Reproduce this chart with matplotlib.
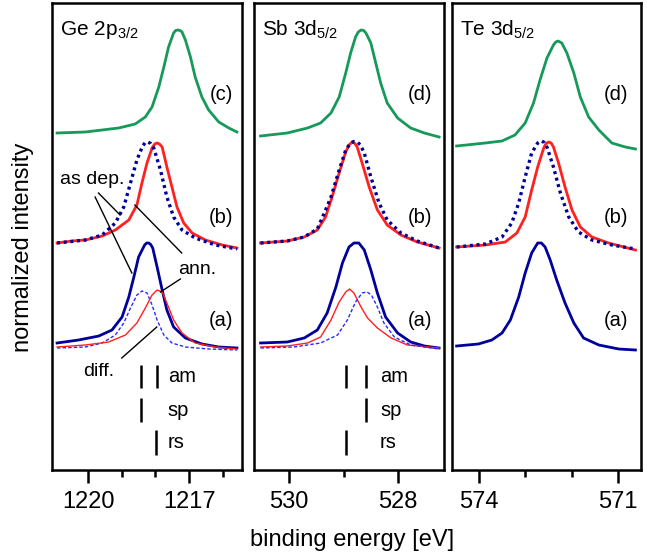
import matplotlib
matplotlib.use("Agg")
import matplotlib.pyplot as plt

plt.rcParams['font.family'] = ['Liberation Sans', 'DejaVu Sans']
plt.rcParams['mathtext.fontset'] = 'custom'
plt.rcParams['mathtext.rm'] = 'Liberation Sans'
plt.rcParams['mathtext.it'] = 'Liberation Sans:italic'
plt.rcParams['lines.solid_joinstyle'] = 'round'

GREEN = "#17995a"
RED = "#ff2020"
NAVY = "#00009a"

# ---- Ge 2p3/2 ----
ge_c_e = [1220.92, 1220.08, 1219.09, 1218.60, 1218.30, 1218.10, 1217.90, 1217.75, 1217.61, 1217.46,
          1217.40, 1217.33, 1217.27, 1217.21, 1217.11, 1216.96, 1216.82, 1216.62, 1216.42, 1216.12,
          1215.82, 1215.58]
ge_c_i = [3.37, 3.38, 3.42, 3.46, 3.53, 3.63, 3.83, 4.03, 4.23, 4.37,
          4.395, 4.40, 4.395, 4.38, 4.30, 4.13, 3.93, 3.73, 3.60, 3.48,
          3.42, 3.38]
ge_b_ann_e = [1220.92, 1220.47, 1220.08, 1219.58, 1219.19, 1218.79, 1218.55, 1218.40, 1218.25, 1218.10,
              1218.02, 1217.95, 1217.88, 1217.80, 1217.66, 1217.51, 1217.36, 1217.16, 1216.91, 1216.52,
              1216.02, 1215.58]
ge_b_ann_i = [2.27, 2.29, 2.30, 2.34, 2.40, 2.50, 2.65, 2.87, 3.07, 3.22,
              3.26, 3.27, 3.26, 3.23, 3.03, 2.83, 2.63, 2.47, 2.37, 2.30,
              2.25, 2.22]
ge_b_dep_e = [1220.92, 1220.08, 1219.58, 1219.19, 1218.94, 1218.74, 1218.55, 1218.38, 1218.30, 1218.22,
              1218.14, 1218.05, 1217.85, 1217.66, 1217.46, 1217.21, 1216.82, 1216.22, 1215.58]
ge_b_dep_i = [2.27, 2.30, 2.35, 2.47, 2.63, 2.87, 3.10, 3.24, 3.275, 3.28,
              3.265, 3.22, 3.00, 2.73, 2.53, 2.40, 2.32, 2.25, 2.21]
ge_a_e = [1220.92, 1220.28, 1219.68, 1219.29, 1218.99, 1218.79, 1218.64, 1218.50, 1218.32, 1218.26,
          1218.20, 1218.14, 1218.08, 1217.95, 1217.80, 1217.66, 1217.46, 1217.11, 1216.62, 1216.12,
          1215.58]
ge_a_i = [1.27, 1.30, 1.34, 1.40, 1.53, 1.73, 1.93, 2.13, 2.25, 2.27,
          2.27, 2.255, 2.22, 2.03, 1.80, 1.60, 1.43, 1.32, 1.26, 1.23,
          1.22]
ge_a_dep_e = [1220.92, 1220.08, 1219.58, 1219.19, 1218.94, 1218.74, 1218.55, 1218.40, 1218.25, 1218.10,
              1217.95, 1217.75, 1217.51, 1217.11, 1216.42, 1215.58]
ge_a_dep_i = [1.22, 1.23, 1.27, 1.35, 1.47, 1.62, 1.75, 1.79, 1.77, 1.65,
              1.50, 1.35, 1.27, 1.23, 1.21, 1.20]
ge_a_ann_e = [1220.92, 1220.08, 1219.39, 1218.89, 1218.55, 1218.30, 1218.10, 1217.95, 1217.80, 1217.66,
              1217.46, 1217.21, 1216.82, 1216.22, 1215.58]
ge_a_ann_i = [1.23, 1.25, 1.28, 1.35, 1.47, 1.62, 1.75, 1.80, 1.78, 1.67,
              1.50, 1.37, 1.27, 1.23, 1.21]

# ---- Sb 3d5/2 ----
sb_d_e = [530.52, 530.03, 529.66, 529.42, 529.23, 529.08, 528.96, 528.87, 528.78, 528.73,
          528.68, 528.63, 528.59, 528.50, 528.41, 528.32, 528.20, 528.01, 527.77, 527.52,
          527.25]
sb_d_i = [3.34, 3.37, 3.42, 3.47, 3.57, 3.73, 3.97, 4.17, 4.33, 4.38,
          4.40, 4.395, 4.37, 4.27, 4.07, 3.87, 3.67, 3.52, 3.42, 3.37,
          3.33]
sb_b_ann_e = [530.52, 530.03, 529.72, 529.48, 529.33, 529.21, 529.08, 528.96, 528.90, 528.84,
              528.80, 528.75, 528.66, 528.53, 528.38, 528.20, 527.95, 527.65, 527.25]
sb_b_ann_i = [2.27, 2.29, 2.33, 2.40, 2.53, 2.73, 2.97, 3.18, 3.25, 3.28,
              3.27, 3.23, 3.07, 2.83, 2.60, 2.45, 2.35, 2.28, 2.22]
sb_b_dep_e = [530.52, 530.03, 529.72, 529.48, 529.36, 529.23, 529.08, 528.96, 528.87, 528.81,
              528.75, 528.69, 528.62, 528.50, 528.35, 528.20, 527.95, 527.65, 527.25]
sb_b_dep_i = [2.27, 2.29, 2.33, 2.41, 2.56, 2.73, 3.00, 3.20, 3.27, 3.285,
              3.28, 3.25, 3.17, 2.93, 2.67, 2.50, 2.37, 2.29, 2.22]
sb_a_e = [530.52, 530.03, 529.72, 529.48, 529.30, 529.14, 529.02, 528.90, 528.81, 528.72,
          528.62, 528.50, 528.38, 528.23, 528.01, 527.77, 527.52, 527.25]
sb_a_i = [1.27, 1.28, 1.32, 1.40, 1.57, 1.83, 2.07, 2.23, 2.27, 2.27,
          2.20, 2.00, 1.77, 1.53, 1.37, 1.28, 1.24, 1.22]
sb_a_ann_e = [530.52, 530.03, 529.66, 529.42, 529.23, 529.08, 528.96, 528.89, 528.81, 528.68,
              528.56, 528.38, 528.13, 527.83, 527.25]
sb_a_ann_i = [1.23, 1.24, 1.27, 1.33, 1.50, 1.68, 1.78, 1.81, 1.77, 1.63,
              1.52, 1.42, 1.32, 1.25, 1.22]
sb_a_dep_e = [530.52, 529.91, 529.42, 529.11, 528.93, 528.78, 528.66, 528.57, 528.49, 528.38,
              528.26, 528.07, 527.77, 527.25]
sb_a_dep_i = [1.22, 1.23, 1.27, 1.35, 1.50, 1.68, 1.77, 1.78, 1.75, 1.63,
              1.47, 1.33, 1.25, 1.21]

# ---- Te 3d5/2 ----
te_d_e = [574.48, 573.86, 573.50, 573.22, 573.00, 572.82, 572.68, 572.53, 572.39, 572.34,
          572.29, 572.21, 572.10, 571.95, 571.81, 571.63, 571.41, 571.13, 570.84, 570.62]
te_d_i = [3.24, 3.27, 3.29, 3.35, 3.47, 3.67, 3.90, 4.12, 4.25, 4.28,
          4.29, 4.27, 4.17, 3.97, 3.73, 3.53, 3.40, 3.27, 3.23, 3.21]
te_b_ann_e = [574.48, 573.86, 573.43, 573.18, 573.00, 572.86, 572.73, 572.60, 572.55, 572.49,
              572.44, 572.39, 572.28, 572.14, 571.99, 571.81, 571.56, 571.20, 570.62]
te_b_ann_i = [2.23, 2.25, 2.28, 2.37, 2.53, 2.80, 3.03, 3.22, 3.265, 3.28,
              3.27, 3.23, 3.07, 2.83, 2.60, 2.43, 2.33, 2.27, 2.20]
te_b_dep_e = [574.48, 573.86, 573.50, 573.29, 573.14, 573.00, 572.86, 572.73, 572.68, 572.64,
              572.59, 572.53, 572.39, 572.24, 572.06, 571.85, 571.56, 571.13, 570.62]
te_b_dep_i = [2.23, 2.26, 2.33, 2.47, 2.67, 2.93, 3.17, 3.27, 3.285, 3.29,
              3.275, 3.23, 3.03, 2.77, 2.53, 2.38, 2.30, 2.25, 2.21]
te_a_e = [574.48, 574.01, 573.72, 573.50, 573.32, 573.14, 573.00, 572.86, 572.73, 572.65,
          572.57, 572.46, 572.32, 572.14, 571.95, 571.74, 571.41, 570.98, 570.62]
te_a_i = [1.24, 1.26, 1.30, 1.37, 1.50, 1.73, 1.97, 2.17, 2.27, 2.27,
          2.23, 2.10, 1.90, 1.67, 1.47, 1.32, 1.25, 1.21, 1.20]

# reference positions (am / sp / rs)
ge_am = [1218.44, 1217.94]
ge_sp = [1218.44]
ge_rs = [1217.98]
sb_am = [528.95, 528.59]
sb_sp = [528.59]
sb_rs = [528.95]
phase_names = ["am", "sp", "rs"]
phase_rows = [(0.82, 1.05), (0.48, 0.72), (0.15, 0.40)]

fig = plt.figure(figsize=(6.47, 5.56), dpi=100)
W, H = 647.0, 556.0
bottom = (H - 470) / H
height = 467 / H
ax1 = fig.add_axes([52 / W, bottom, 190 / W, height])
ax2 = fig.add_axes([254 / W, bottom, 190 / W, height])
ax3 = fig.add_axes([452 / W, bottom, 189 / W, height])

thick = 2.0
thin = 1.0
dots = (0, (0.9, 1.1))
fine_dash = (0, (2.5, 1.5))

def style_axis(ax, xlim, major, minor, title, lab_x, labels):
    ax.set_xlim(*xlim)
    ax.set_ylim(0, 4.67)
    ax.set_yticks([])
    ax.set_xticks(major)
    ax.set_xticks(minor, minor=True)
    ax.tick_params(axis='x', which='major', direction='out', length=9, width=1.8,
                   labelsize=17, pad=6)
    ax.tick_params(axis='x', which='minor', direction='out', length=5, width=1.8)
    for s in ax.spines.values():
        s.set_linewidth(1.8)
    ax.text(0.042, 0.942, title, transform=ax.transAxes, fontsize=15, va='center', ha='left')
    for lab, yf in zip(labels, [0.803, 0.54, 0.321]):
        ax.text(lab_x, yf, lab, transform=ax.transAxes, fontsize=14.5, va='center', ha='center')

def phase_marks(ax, am, sp, rs, text_e):
    for pos, (y0, y1), name in zip([am, sp, rs], phase_rows, phase_names):
        for e in pos:
            ax.plot([e, e], [y0, y1], color='black', lw=1.8, solid_capstyle='butt')
        ax.text(text_e, (y0 + y1) / 2, name, fontsize=14.5, va='center', ha='left')

# Ge panel
ax1.plot(ge_c_e, ge_c_i, color=GREEN, lw=thick)
ax1.plot(ge_b_ann_e, ge_b_ann_i, color=RED, lw=thick)
ax1.plot(ge_b_dep_e, ge_b_dep_i, color=NAVY, lw=2.4, ls=dots)
ax1.plot(ge_a_e, ge_a_i, color=NAVY, lw=thick)
ax1.plot(ge_a_dep_e, ge_a_dep_i, color="#2a2aff", lw=thin, ls=fine_dash)
ax1.plot(ge_a_ann_e, ge_a_ann_i, color=RED, lw=thin)
style_axis(ax1, (1221.07, 1215.43), [1220, 1217], [1219, 1218, 1216], "Ge 2p$_{3/2}$",
           0.89, ["(c)", "(b)", "(a)"])
phase_marks(ax1, ge_am, ge_sp, ge_rs, 1217.63)
ax1.plot([1219.79, 1218.70], [2.73, 1.97], color='black', lw=1)
ax1.plot([1219.69, 1219.05], [2.77, 2.55], color='black', lw=1)
ax1.text(1219.88, 2.91, "as dep.", fontsize=14, ha='center', va='center')
ax1.plot([1218.61, 1217.22], [2.65, 2.17], color='black', lw=1)
ax1.plot([1217.85, 1217.26], [1.78, 1.91], color='black', lw=1)
ax1.text(1216.75, 2.00, "ann.", fontsize=14, ha='center', va='center')
ax1.plot([1219.00, 1217.96], [1.12, 1.43], color='black', lw=1)
ax1.text(1219.67, 0.98, "diff.", fontsize=14, ha='center', va='center')

# Sb panel
ax2.plot(sb_d_e, sb_d_i, color=GREEN, lw=thick)
ax2.plot(sb_b_ann_e, sb_b_ann_i, color=RED, lw=thick)
ax2.plot(sb_b_dep_e, sb_b_dep_i, color=NAVY, lw=2.4, ls=dots)
ax2.plot(sb_a_e, sb_a_i, color=NAVY, lw=thick)
ax2.plot(sb_a_ann_e, sb_a_ann_i, color=RED, lw=thin)
ax2.plot(sb_a_dep_e, sb_a_dep_i, color="#2a2aff", lw=thin, ls=fine_dash)
style_axis(ax2, (530.64, 527.16), [530, 528], [529], "Sb 3d$_{5/2}$",
           0.874, ["(d)", "(b)", "(a)"])
phase_marks(ax2, sb_am, sb_sp, sb_rs, 528.33)

# Te panel
ax3.plot(te_d_e, te_d_i, color=GREEN, lw=thick)
ax3.plot(te_b_ann_e, te_b_ann_i, color=RED, lw=thick)
ax3.plot(te_b_dep_e, te_b_dep_i, color=NAVY, lw=2.4, ls=dots)
ax3.plot(te_a_e, te_a_i, color=NAVY, lw=thick)
style_axis(ax3, (574.58, 570.50), [574, 571], [573, 572], "Te 3d$_{5/2}$",
           0.868, ["(d)", "(b)", "(a)"])

fig.text(23 / W, 1 - 247 / H, "normalized intensity", rotation=90, fontsize=17,
         ha='center', va='center')
fig.text(352 / W, 1 - 540 / H, "binding energy [eV]", fontsize=17, ha='center', va='center')

fig.savefig("out.png", dpi=100)
